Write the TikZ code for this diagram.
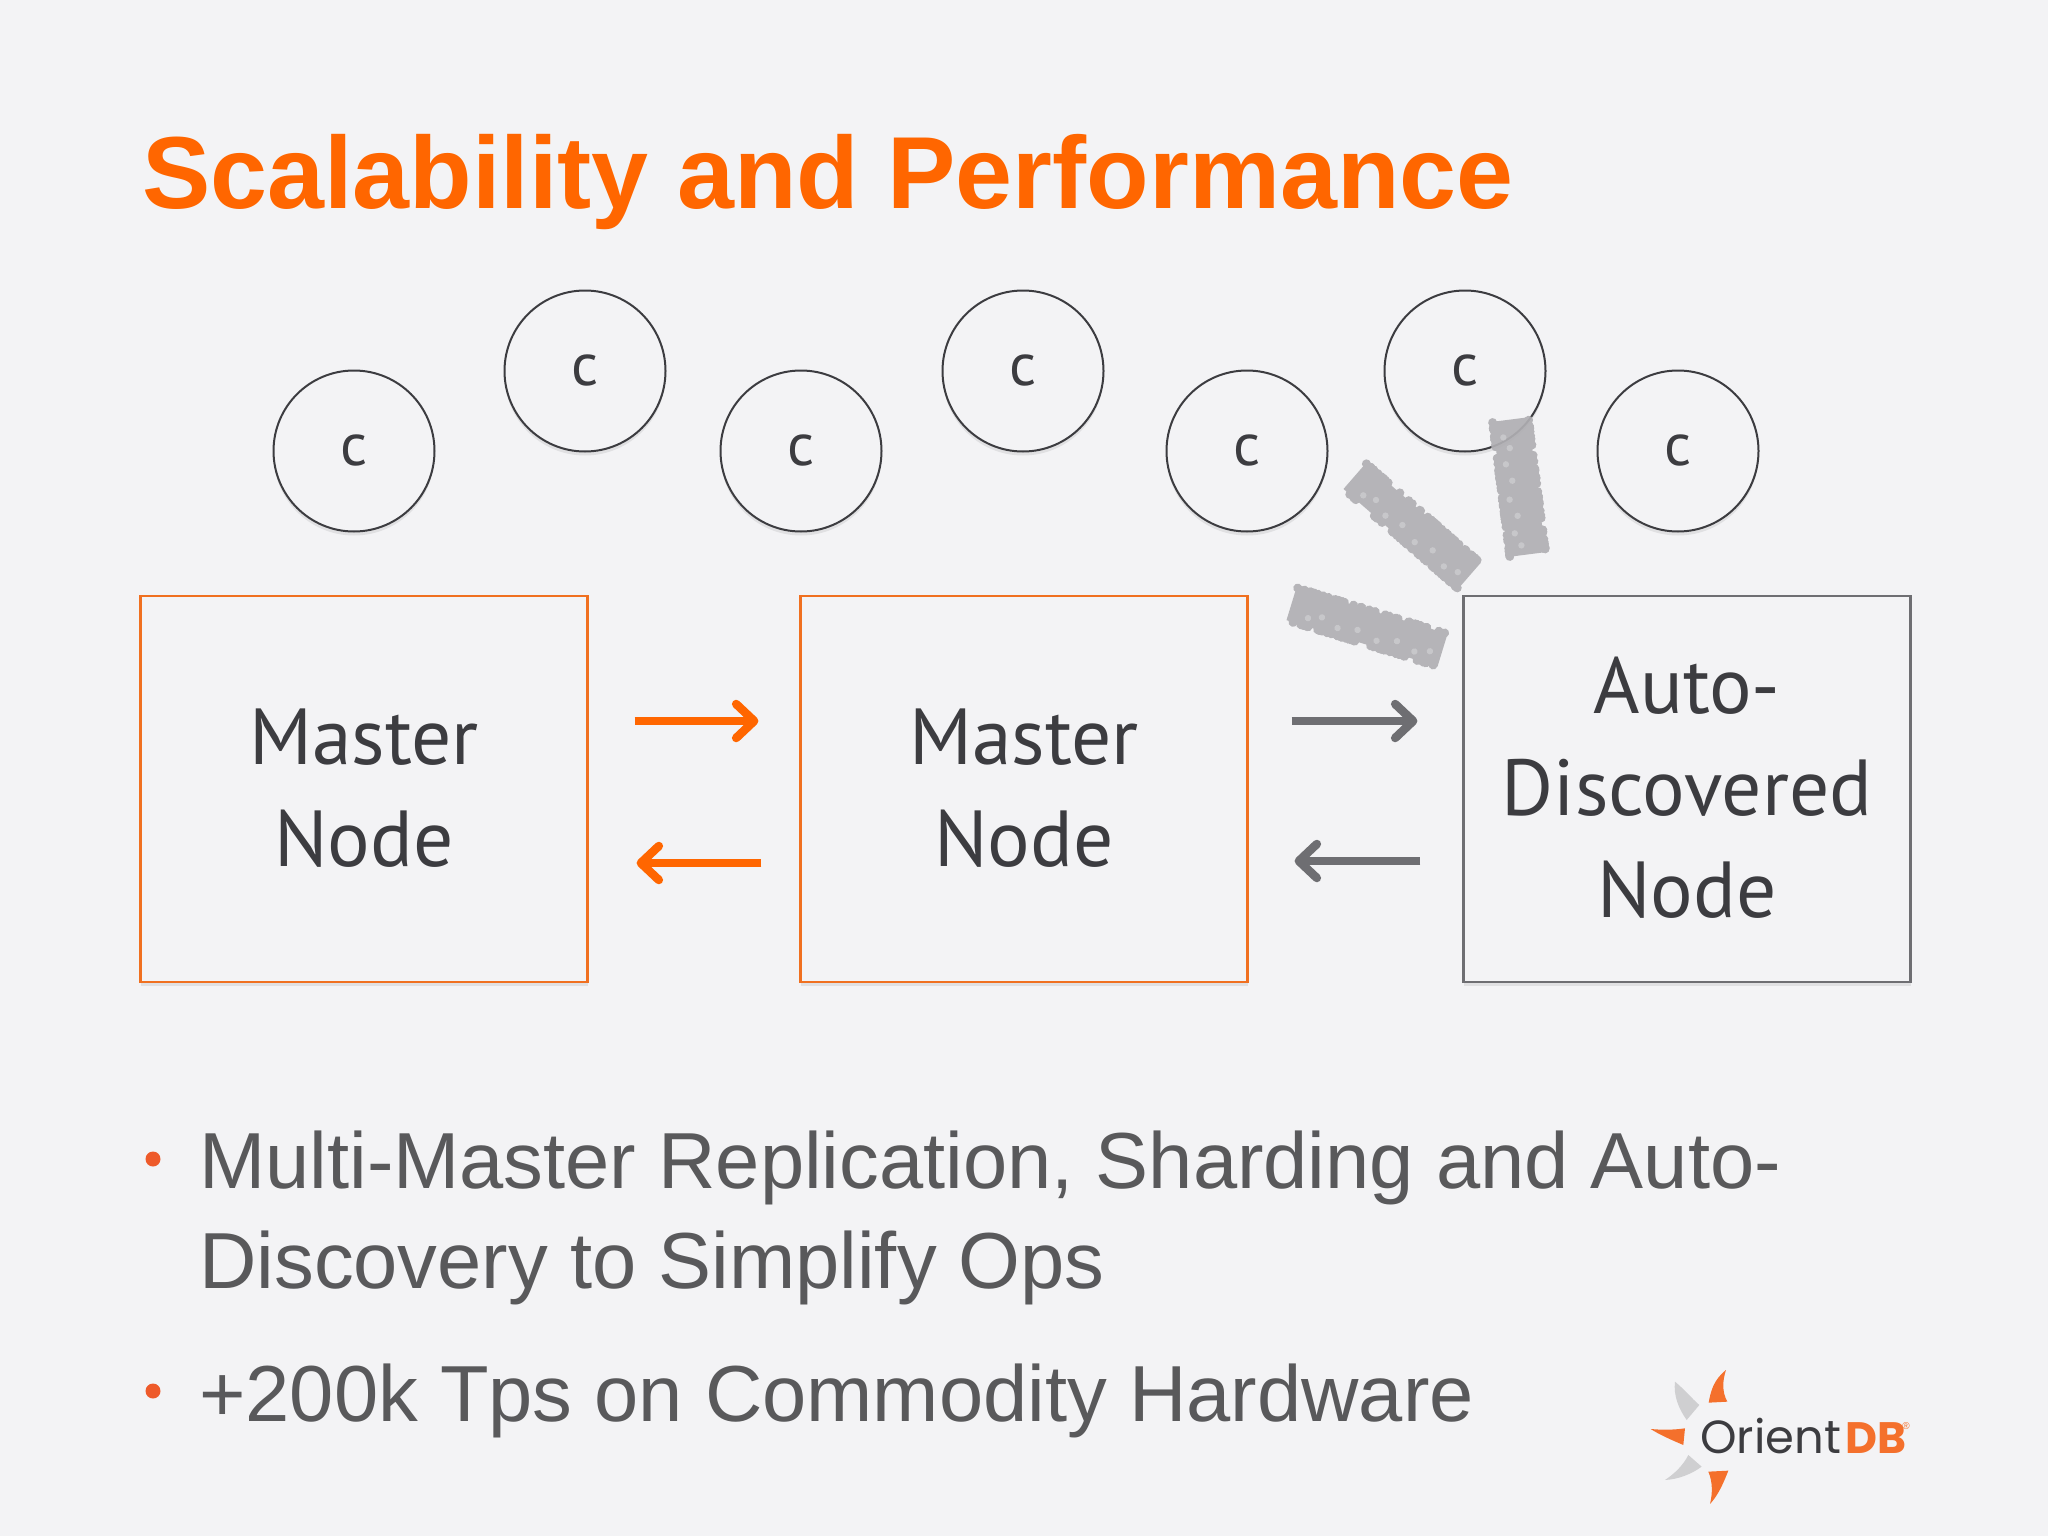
\documentclass[tikz,border=0pt]{standalone}
\usepackage{fontspec}
\setmainfont{Liberation Sans}
\newfontfamily\ptfont{PT Sans}
\newfontfamily\logofont{Poppins}
\usetikzlibrary{arrows.meta,shadows,decorations.pathmorphing}
\definecolor{bgc}{HTML}{F3F3F5}
\definecolor{orangeT}{HTML}{FF6600}
\definecolor{orangeB}{HTML}{F07020}
\definecolor{greyB}{HTML}{6E6E72}
\definecolor{inkc}{HTML}{3C3C40}
\definecolor{bodyc}{HTML}{59595B}
\definecolor{smudgec}{HTML}{B0AFB3}
\definecolor{bulletc}{HTML}{EE5A2A}
\definecolor{petalg}{HTML}{CFCFD1}
\definecolor{petalo}{HTML}{F4702C}
\pgfmathsetseed{4242}
\tikzset{
  softshadow/.style={drop shadow={opacity=.16,shadow xshift=0pt,shadow yshift=-4pt}},
  client/.style={circle,draw=inkc,line width=2pt,fill=bgc,minimum size=161pt,inner sep=0pt,softshadow,text=inkc,
    font=\ptfont\fontsize{60}{60}\selectfont},
  nodebox/.style={rectangle,line width=2.2pt,fill=bgc,minimum width=447pt,minimum height=386pt,align=center,softshadow,text=inkc,
    font=\ptfont\fontsize{79.5}{102}\selectfont},
  masterbox/.style={nodebox,draw=orangeB},
  autobox/.style={nodebox,draw=greyB},
  link/.style={line width=8pt,-{Straight Barb[round,length=18pt,width=34pt,line width=8.5pt]}},
  linko/.style={link,draw=orangeT},
  linkg/.style={link,draw=greyB},
  smudgegroup/.style={transparency group,opacity=.92},
  speck/.style={fill=bgc,opacity=.3},
  bodytext/.style={anchor=base west,inner sep=0pt,text=bodyc,font=\fontsize{79.5}{90}\selectfont},
  bulletdot/.style={circle,fill=bulletc,minimum size=15pt,inner sep=0pt},
  petalO/.style={fill=petalo},
  petalG/.style={fill=petalg},
}
\newcommand{\smudgestrip}[5]{% x y angle length width
  \begin{scope}[shift={(#1,#2)},rotate=#3]
    \begin{scope}[smudgegroup]
      \fill[smudgec] (-#4/2+3,-#5/2+3) rectangle (#4/2-3,#5/2-3);
      \foreach \i in {1,...,90}
        \fill[smudgec] ({rand*(#4/2-3)},{(rand>0?1:-1)*(#5/2-3)}) circle (4.5pt);
    \end{scope}
    \foreach \sx/\sy in {-0.36/0.22,-0.28/0.1,-0.17/0.24,-0.05/0.14,0.08/0.26,0.2/0.12,0.32/0.24,0.41/0.12}
      \fill[speck] (\sx*#4,\sy*#5) circle (3.2pt);
  \end{scope}}
\begin{document}
\begin{tikzpicture}[x=1pt,y=-1pt]
\useasboundingbox (0,0) rectangle (2048,1536);
\fill[bgc] (0,0) rectangle (2048,1536);

\node[anchor=base west,inner sep=0pt,text=orangeT,font=\bfseries\fontsize{102.4}{110}\selectfont] (title) at (142,208) {Scalability and Performance};

\node[client] (c1) at (354,451) {\raisebox{1pt}{c}};
\node[client] (c2) at (585,371) {\raisebox{1pt}{c}};
\node[client] (c3) at (801,451) {\raisebox{1pt}{c}};
\node[client] (c4) at (1023,371) {\raisebox{1pt}{c}};
\node[client] (c5) at (1247,451) {\raisebox{1pt}{c}};
\node[client] (c6) at (1465,371) {\raisebox{1pt}{c}};
\node[client] (c7) at (1678,451) {\raisebox{1pt}{c}};

\node[masterbox] (m1) at (364,789) {\raisebox{3pt}{Master}\\\raisebox{3pt}{Node}};
\node[masterbox] (m2) at (1024,789) {\raisebox{3pt}{Master}\\\raisebox{3pt}{Node}};
\node[autobox] (m3) at (1687,789) {\raisebox{3pt}{Auto-}\\\raisebox{3pt}{Discovered}\\\raisebox{3pt}{Node}};

\draw[linko,shorten <=46pt,shorten >=41pt] ([yshift=68pt]m1.east) -- ([yshift=68pt]m2.west);
\draw[linko,shorten <=38pt,shorten >=48pt] ([yshift=-74pt]m2.west) -- ([yshift=-74pt]m1.east);
\draw[linkg,shorten <=43pt,shorten >=45pt] ([yshift=68pt]m2.east) -- ([yshift=68pt]m3.west);
\draw[linkg,shorten <=42pt,shorten >=46pt] ([yshift=-72pt]m3.west) -- ([yshift=-72pt]m2.east);

\smudgestrip{1412}{526}{-41}{158}{40}
\smudgestrip{1519}{487}{-82.7}{142}{42}
\smudgestrip{1367}{627}{-17}{164}{40}

\node[bulletdot] (b1) at (153,1159) {};
\node[bulletdot] (b2) at (153,1391) {};
\node[bodytext] (t1) at (199,1188) {Multi-Master Replication, Sharding and Auto-};
\node[bodytext] (t2) at (199,1288) {Discovery to Simplify Ops};
\node[bodytext] (t3) at (199,1421) {+200k Tps on Commodity Hardware};

\begin{scope}[shift={(1620,1350)},scale=0.3333]
  \fill[petalO] (318,60) .. controls (280,90) and (272,125) .. (266,158) -- (322,155) .. controls (305,125) and (308,90) .. (318,60) -- cycle;
  \fill[petalG] (165,95) .. controls (195,120) and (215,145) .. (238,165) -- (200,210) .. controls (175,175) and (160,135) .. (165,95) -- cycle;
  \fill[petalO] (92,237) .. controls (125,240) and (160,240) .. (195,235) -- (190,285) .. controls (155,270) and (120,255) .. (92,237) -- cycle;
  \fill[petalG] (245,350) -- (205,315) .. controls (190,345) and (165,370) .. (135,390) .. controls (175,388) and (215,372) .. (245,350) -- cycle;
  \fill[petalO] (265,365) -- (325,362) .. controls (310,400) and (295,435) .. (270,462) .. controls (278,430) and (278,395) .. (265,365) -- cycle;
\end{scope}
\node[anchor=base west,inner sep=0pt,text=inkc,font=\logofont\fontsize{46.5}{50}\selectfont] (lg1) at (1700,1453) {Orient};
\node[anchor=base west,inner sep=0pt,text=petalo,font=\logofont\bfseries\fontsize{44}{50}\selectfont] (lg2) at (1845,1453) {DB};
\node[anchor=center,inner sep=0pt,text=petalo,font=\fontsize{10}{10}\selectfont] (lg3) at (1906,1426) {®};
\end{tikzpicture}
\end{document}
